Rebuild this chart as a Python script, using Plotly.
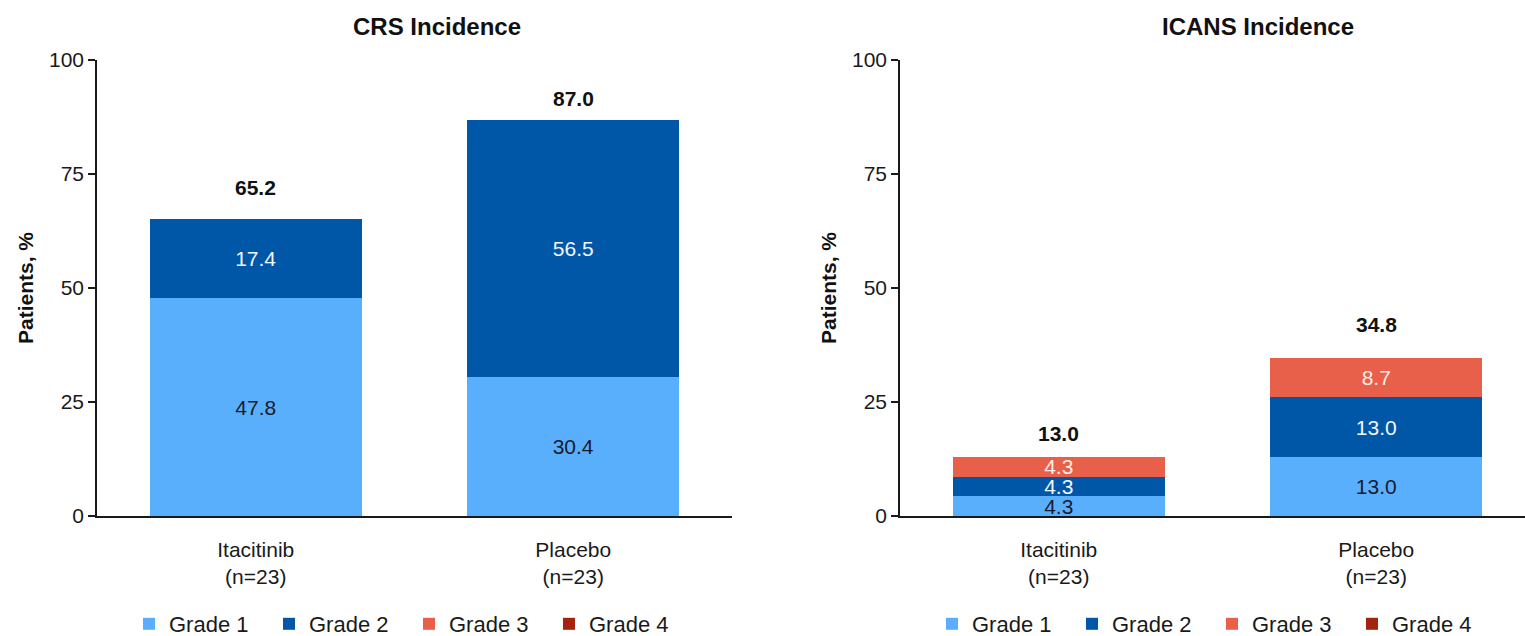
import plotly.graph_objects as go

# Treatment arms and incidence by grade (% of patients)
arms = ["Itacitinib<br>(n=23)", "Placebo<br>(n=23)"]
grades = ["Grade 1", "Grade 2", "Grade 3", "Grade 4"]

crs_grade1 = [47.8, 30.4]
crs_grade2 = [17.4, 56.5]
crs_grade3 = [0.0, 0.0]
crs_grade4 = [0.0, 0.0]
crs_total = [65.2, 87.0]

icans_grade1 = [4.3, 13.0]
icans_grade2 = [4.3, 13.0]
icans_grade3 = [4.3, 8.7]
icans_grade4 = [0.0, 0.0]
icans_total = [13.0, 34.8]

y_ticks = [0, 25, 50, 75, 100]

colors = ["#5AAFFD", "#0057A8", "#E8604A", "#A3230F"]
text_colors = ["#1A1A2E", "#F2F6FF", "#FBEDE6", "#FFFFFF"]
FONT = "Liberation Sans, Arial, sans-serif"

W, H = 1525, 636
TOP, BOTTOM = 60, 120
PLOT_H = H - TOP - BOTTOM
L_AX = (97, 732)     # pixel span of left x axis
R_AX = (900, 1525)   # pixel span of right x axis (clipped at page edge)
CAT_PX = 317.5       # pixel width of one category slot


def py(px_from_top):
    """Paper y for a pixel row measured from the top of the page."""
    return (H - BOTTOM - px_from_top) / PLOT_H


fig = go.Figure()

panels = [
    ("x", "y", "legend", [crs_grade1, crs_grade2, crs_grade3, crs_grade4]),
    ("x2", "y2", "legend2", [icans_grade1, icans_grade2, icans_grade3, icans_grade4]),
]

for xa, ya, lg, series in panels:
    for g, vals, col, tcol in zip(grades, series, colors, text_colors):
        fig.add_trace(go.Bar(
            x=arms, y=vals, name=g, xaxis=xa, yaxis=ya, legend=lg,
            marker=dict(color=col, line=dict(width=0)),
            text=[f"{v:.1f}" if v > 0 else "" for v in vals],
            textposition="inside", insidetextanchor="middle",
            textfont=dict(family=FONT, size=21, color=tcol),
            cliponaxis=False,
        ))

axis_common = dict(
    showline=True, linecolor="#1a1a1a", linewidth=1.6,
    showgrid=False, zeroline=False,
    tickfont=dict(family=FONT, size=21, color="#1a1a1a"),
)

legend_common = dict(
    orientation="h", xanchor="left", y=py(624), yanchor="middle", yref="paper",
    entrywidth=95, entrywidthmode="pixels",
    font=dict(family=FONT, size=22, color="#1a1a1a"),
    itemclick=False, traceorder="normal",
)

fig.update_layout(
    width=W, height=H,
    margin=dict(l=0, r=0, t=TOP, b=BOTTOM, autoexpand=False),
    paper_bgcolor="white", plot_bgcolor="white",
    barmode="stack", bargap=0.333,
    uniformtext=dict(minsize=21, mode="show"),
    xaxis=dict(domain=[L_AX[0] / W, L_AX[1] / W], range=[-0.5, 1.5],
               ticks="", ticklabelstandoff=14, anchor="y", **axis_common),
    yaxis=dict(domain=[0, 1], range=[0, 100], tickvals=y_ticks,
               ticks="outside", ticklen=7, tickwidth=1.6, tickcolor="#1a1a1a",
               anchor="x", **axis_common),
    xaxis2=dict(domain=[R_AX[0] / W, 1.0],
                range=[-0.5, -0.5 + (R_AX[1] - R_AX[0]) / CAT_PX],
                ticks="", ticklabelstandoff=14, anchor="y2", **axis_common),
    yaxis2=dict(domain=[0, 1], range=[0, 100], tickvals=y_ticks,
                ticks="outside", ticklen=7, tickwidth=1.6, tickcolor="#1a1a1a",
                anchor="x2", **axis_common),
    legend=dict(x=(L_AX[0] + 32) / W, **legend_common),
    legend2=dict(x=(R_AX[0] + 32) / W, **legend_common),
    showlegend=True,
)

# Totals above each stacked bar
total_shift = [[31, 21], [23, 33]]
for (xa, ya), totals, shifts in zip([("x", "y"), ("x2", "y2")],
                                    [crs_total, icans_total], total_shift):
    for arm, tot, sh in zip(arms, totals, shifts):
        fig.add_annotation(x=arm, y=tot, xref=xa, yref=ya, text=f"<b>{tot:.1f}</b>",
                           showarrow=False, yanchor="middle", yshift=sh,
                           font=dict(family=FONT, size=21, color="#111111"))

# Panel titles
for txt, cx in [("CRS Incidence", 437), ("ICANS Incidence", 1258)]:
    fig.add_annotation(x=cx / W, y=py(26), xref="paper", yref="paper",
                       xanchor="center", yanchor="middle",
                       text=f"<b>{txt}</b>", showarrow=False,
                       font=dict(family=FONT, size=24, color="#111111"))

# Y-axis titles
for cx in [25, 828]:
    fig.add_annotation(x=cx / W, y=0.5, xref="paper", yref="paper",
                       text="<b>Patients, %</b>", textangle=-90, showarrow=False,
                       xanchor="center", yanchor="middle",
                       font=dict(family=FONT, size=21, color="#111111"))

fig.write_html("out.html")
